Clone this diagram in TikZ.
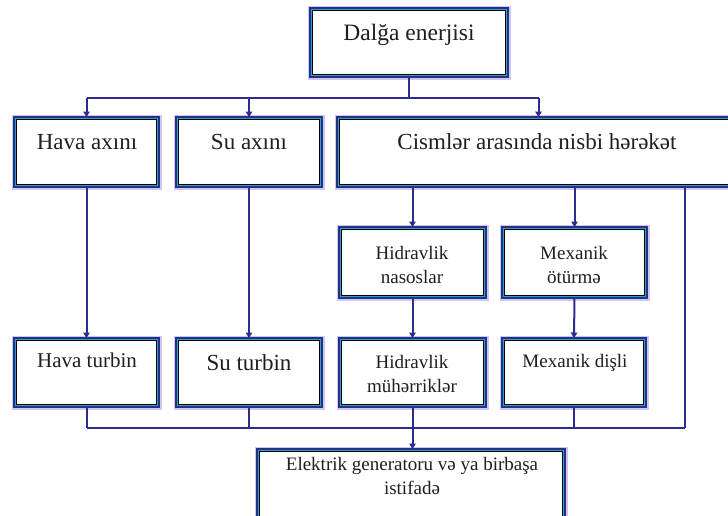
\documentclass[tikz,border=0pt]{standalone}
\usepackage{fontspec}
\setmainfont{Liberation Serif}
\usetikzlibrary{arrows.meta,calc}
\definecolor{navy}{RGB}{44,44,140}
\definecolor{tealb}{RGB}{32,168,188}
\definecolor{halo}{RGB}{205,200,238}
\begin{document}
\begin{tikzpicture}[x=1pt,y=-1pt,
  box/.style={rectangle, inner sep=0pt, outer sep=0pt, fill=white, draw=navy, line width=1.8pt,
    preaction={draw=halo, line width=5pt}},
  lbl/.style={anchor=base, inner sep=0pt, text=black!88},
  conn/.style={draw=navy, line width=2pt},
  arr/.style={conn, -{Triangle[length=5.5pt,width=6.5pt]}},
  fa/.style={font=\fontsize{23.5}{26}\selectfont},
  fb/.style={font=\fontsize{23}{26}\selectfont},
  fc/.style={font=\fontsize{19}{24}\selectfont},
  fd/.style={font=\fontsize{21}{24}\selectfont}]
\useasboundingbox (0,0) rectangle (728,515);
\clip (0,0) rectangle (728,515);
% boxes
\node[box, minimum width=198pt, minimum height=69pt] (de) at (409,42.5) {};
\node[box, minimum width=145pt, minimum height=70pt] (ha) at (86.5,152) {};
\node[box, minimum width=146pt, minimum height=70pt] (sa) at (249,152) {};
\node[box, minimum width=403pt, minimum height=70pt] (cis) at (538.5,152) {};
\node[box, minimum width=147pt, minimum height=71pt] (hn) at (412.5,262.5) {};
\node[box, minimum width=145pt, minimum height=71pt] (mo) at (574.5,262.5) {};
\node[box, minimum width=145pt, minimum height=69pt] (ht) at (86.5,372.5) {};
\node[box, minimum width=146pt, minimum height=69pt] (st) at (249,372.5) {};
\node[box, minimum width=147pt, minimum height=69pt] (hm) at (412.5,372.5) {};
\node[box, minimum width=144pt, minimum height=69pt] (md) at (574,372.5) {};
\node[box, minimum width=308pt, minimum height=81pt] (eg) at (411,489.5) {};
\foreach \n in {de,ha,sa,cis,hn,mo,ht,st,hm,md,eg}{
  \draw[tealb, line width=1.3pt] ($(\n.north west)+(1.6,1.6)$) rectangle ($(\n.south east)+(-1.6,-1.6)$);
  \draw[black, line width=0.6pt] ($(\n.north west)+(2.6,2.6)$) rectangle ($(\n.south east)+(-2.6,-2.6)$);
}
% texts
\node[lbl, fa] (tde) at (409,40) {Dalğa enerjisi};
\node[lbl, fb] (tha) at (87,149) {Hava axını};
\node[lbl, fb] (tsa) at (249,149) {Su axını};
\node[lbl, fb] (tcis) at (537,149) {Cismlər arasında nisbi hərəkət};
\node[lbl, fc] (thn1) at (412,259) {Hidravlik};
\node[lbl, fc] (thn2) at (412,283) {nasoslar};
\node[lbl, fc] (tmo1) at (574,259) {Mexanik};
\node[lbl, fc] (tmo2) at (574,283) {ötürmə};
\node[lbl, fd] (tht) at (87,367) {Hava turbin};
\node[lbl, fb] (tst) at (249,370) {Su turbin};
\node[lbl, fc] (thm1) at (412,368) {Hidravlik};
\node[lbl, fc] (thm2) at (412,392) {mühərriklər};
\node[lbl, fc] (tmd) at (575,367) {Mexanik dişli};
\node[lbl, fc] (teg1) at (412,470) {Elektrik generatoru və ya birbaşa};
\node[lbl, fc] (teg2) at (412,494) {istifadə};
% bus coordinates
\coordinate (busA) at (0,98);
\coordinate (busB) at (0,428);
\coordinate (rt) at (685,0);
% top connectors
\draw[conn] (de.south) -- (de.south |- busA);
\draw[conn] (ha.north |- busA) -- (cis.north |- busA);
\draw[arr] (ha.north |- busA) -- (ha.north);
\draw[arr] (sa.north |- busA) -- (sa.north);
\draw[arr] (cis.north |- busA) -- (cis.north);
% middle connectors
\draw[arr] (ha.south) -- (ht.north);
\draw[arr] (sa.south) -- (st.north);
\draw[arr] (cis.south -| hn.north) -- (hn.north);
\draw[arr] (cis.south -| mo.north) -- (mo.north);
\draw[arr] (hn.south) -- (hm.north);
\draw[arr] (mo.south) -- (md.north);
% bottom connectors
\draw[conn] (ht.south) -- (ht.south |- busB);
\draw[conn] (st.south) -- (st.south |- busB);
\draw[conn] (hm.south) -- (hm.south |- busB);
\draw[conn] (md.south) -- (md.south |- busB);
\draw[conn] (cis.south -| rt) -- (rt |- busB);
\draw[conn] (ht.south |- busB) -- (rt |- busB);
\draw[arr] (hm.south |- busB) -- (eg.north -| hm.south);
\end{tikzpicture}
\end{document}
